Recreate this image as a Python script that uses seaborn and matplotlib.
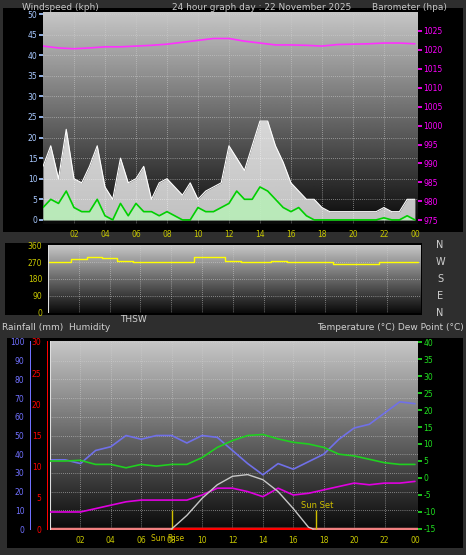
import numpy as np
import pandas as pd
import matplotlib
matplotlib.use("Agg")
import matplotlib.pyplot as plt
import seaborn as sns

# ---- data ----
half_hours = [i / 2 for i in range(49)]
gust = [13, 18, 10, 22, 10, 9, 13, 18, 8, 5, 15, 9, 10, 13, 5, 9, 10, 8, 6, 9, 5, 7, 8, 9,
        18, 15, 12, 18, 24, 24, 18, 14, 9, 7, 5, 5, 3, 2, 2, 2, 2, 2, 2, 2, 3, 2, 2, 5, 5]
avg_wind = [3, 5, 4, 7, 3, 2, 2, 5, 1, 0, 4, 1, 4, 2, 2, 1, 2, 1, 0, 0, 3, 2, 2, 3,
            4, 7, 5, 5, 8, 7, 5, 3, 2, 3, 1, 0, 0, 0, 0, 0, 0, 0, 0, 0, 0.5, 0, 0, 1, 0]

hours = list(range(25))
barometer = [1021, 1020.5, 1020.3, 1020.5, 1020.8, 1020.8, 1021, 1021.2, 1021.5, 1022, 1022.5,
             1023, 1023, 1022.3, 1021.8, 1021.3, 1021.3, 1021.2, 1021, 1021.4, 1021.5, 1021.6,
             1021.8, 1021.8, 1021.6]
direction = [270, 270, 290, 300, 295, 280, 275, 270, 275, 270, 300, 300, 280, 275, 275, 280,
             275, 275, 270, 260, 260, 260, 275, 275, 270]
humidity = [37, 37, 35, 42, 44, 50, 48, 50, 50, 46, 50, 49, 42, 35, 29, 35, 32, 36, 40, 48,
            54, 56, 62, 68, 67]
temperature = [5, 5, 5.2, 4, 4, 3, 4, 3.5, 4, 4, 6, 9, 11, 12.5, 12.8, 11.5, 10.5, 10, 9, 7,
               6.5, 5.5, 4.5, 4, 4]
dew_point = [-10, -10, -10, -9, -8, -7, -6.5, -6.5, -6.5, -6.5, -5, -3, -3, -4, -5.5, -3, -5,
             -4.5, -3.5, -2.5, -1.5, -2, -1.5, -1.5, -1]
thsw_hours = [8, 9, 10, 11, 12, 13, 14, 15, 16, 17, 17.3]
thsw = [-15, -11, -6, -2, 0.5, 1, -0.5, -4, -9, -14.5, -15]
sunrise, sunset = 8.0, 17.5
xtick_labels = ["02", "04", "06", "08", "10", "12", "14", "16", "18", "20", "22", "00"]

sns.set_theme(style="dark")
plt.rcParams["font.family"] = ["DejaVu Sans"]
plt.rcParams["axes.unicode_minus"] = False

W, H = 466, 555
fig = plt.figure(figsize=(W / 100, H / 100), dpi=100, facecolor="#2e2e2e")


def box(x0, y0, x1, y1):
    return [x0 / W, 1 - y1 / H, (x1 - x0) / W, (y1 - y0) / H]


grad = np.linspace(0, 1, 256).reshape(-1, 1)


def style(ax, xlim, ylim, ycolor, yticks, gridy):
    ax.set_xlim(*xlim)
    ax.set_ylim(*ylim)
    ax.imshow(grad, extent=[xlim[0], xlim[1], ylim[0], ylim[1]], aspect="auto",
              cmap="gray", vmin=-0.05, vmax=1.3, origin="lower", zorder=0)
    ax.set_facecolor("black")
    for s in ax.spines.values():
        s.set_visible(False)
    ax.set_xticks(range(2, 25, 2))
    ax.set_xticks(np.arange(0, 24.01, 0.5), minor=True)
    ax.set_yticks(yticks)
    ax.set_yticklabels([str(t) for t in yticks], color=ycolor, fontsize=5.5)
    ax.tick_params(axis="y", colors=ycolor, length=3, pad=1, labelsize=5.5)
    ax.tick_params(axis="x", colors="#c8c800", length=2, pad=2, labelsize=5.5)
    for g in gridy:
        ax.axhline(g, color="#d0d0d0", lw=0.5, ls=(0, (1, 2)), zorder=1)
    for g in range(2, 24, 2):
        ax.axvline(g, color="#d0d0d0", lw=0.5, ls=(0, (1, 2)), zorder=1)


# ---- frames ----
for b in [(3, 8, 463, 232), (5, 243, 422, 315), (7, 338, 463, 548)]:
    fa = fig.add_axes(box(*b))
    fa.set_facecolor("black")
    fa.set_xticks([]); fa.set_yticks([])
    for s in fa.spines.values():
        s.set_visible(False)

# ---- wind / barometer panel ----
ax1 = fig.add_axes(box(43, 12, 418, 224))
style(ax1, (0, 24.2), (-1, 50.5), "#a8c8ff", list(range(0, 51, 5)), range(5, 51, 5))
ax1.set_xticklabels(xtick_labels, color="#c8c800")
ax1.fill_between(half_hours, gust, color="white", alpha=0.75, zorder=2, lw=0)
sns.lineplot(x=half_hours, y=gust, ax=ax1, color="white", lw=0.8, zorder=2)
ax1.fill_between(half_hours, avg_wind, color="#b8f0b8", alpha=0.85, zorder=3, lw=0)
sns.lineplot(x=half_hours, y=avg_wind, ax=ax1, color="#00d000", lw=1.2, zorder=4)
ax1b = ax1.twinx()
ax1b.set_ylim(974, 1030)
sns.lineplot(x=hours, y=barometer, ax=ax1b, color="#ff30ff", lw=1.2)
ax1b.set_yticks(range(975, 1026, 5))
ax1b.tick_params(axis="y", colors="#ff00ff", labelsize=5.5, length=3, pad=1)
for s in ax1b.spines.values():
    s.set_visible(False)
ax1.set_xlim(0, 24.2)

fig.text(22 / W, 1 - 7 / H, "Windspeed (kph)", color="#c8c8c8", fontsize=6.5, va="center")
fig.text(172 / W, 1 - 7 / H, "24 hour graph day : 22 November 2025", color="#c8c8c8",
         fontsize=6.5, va="center")
fig.text(372 / W, 1 - 7 / H, "Barometer (hpa)", color="#c8c8c8", fontsize=6.5, va="center")

# ---- wind direction panel ----
ax2 = fig.add_axes(box(48, 245, 421, 313))
style(ax2, (0, 24.2), (-5, 365), "#c8c800", [0, 90, 180, 270, 360], [90, 180, 270])
ax2.set_xticklabels([])
ax2.tick_params(axis="x", length=0)
sns.lineplot(x=hours, y=direction, ax=ax2, color="#ffff00", lw=1.0, drawstyle="steps-mid")
ax2.axvline(0, color="#e0e0e0", lw=1.5)
for lab, yy in zip(["N", "W", "S", "E", "N"], [245, 262, 279, 296, 313]):
    fig.text(440 / W, 1 - yy / H, lab, color="#d0d0d0", fontsize=7, ha="center", va="center")

fig.text(2 / W, 1 - 327 / H, "Rainfall (mm)  Humidity", color="#d0d0d0", fontsize=6.5, va="center")
fig.text(120 / W, 1 - 320 / H, "THSW", color="#d0d0d0", fontsize=6.5, va="center")
fig.text(464 / W, 1 - 327 / H, "Temperature (°C) Dew Point (°C)", color="#d0d0d0",
         fontsize=6.5, va="center", ha="right")

# ---- temperature / humidity panel ----
ax3 = fig.add_axes(box(50, 341, 418, 530))
style(ax3, (0, 24.2), (-0.5, 100.5), "#8080ff", list(range(0, 101, 10)), range(10, 101, 10))
ax3.set_yticklabels([])
ax3.tick_params(axis="y", length=0)
ax3.set_xticklabels(xtick_labels, color="#c8c800")
sns.lineplot(x=hours, y=humidity, ax=ax3, color="#7070e8", lw=1.2, zorder=5)

# humidity axis on the far left
axh = fig.add_axes(box(30, 341, 31, 530))
axh.set_ylim(-0.5, 100.5)
axh.set_xticks([])
axh.set_facecolor("#7070ff")
axh.set_yticks(range(0, 101, 10))
axh.tick_params(axis="y", colors="#7070ff", labelsize=5.5, length=3, pad=1)
for s in axh.spines.values():
    s.set_visible(False)
# rainfall axis
axr = fig.add_axes(box(47, 341, 48, 530))
axr.set_ylim(-0.15, 30.15)
axr.set_xticks([])
axr.set_facecolor("#ff0000")
axr.set_yticks(range(0, 31, 5))
axr.tick_params(axis="y", colors="#ff0000", labelsize=5.5, length=3, pad=1)
for s in axr.spines.values():
    s.set_visible(False)

ax3b = ax3.twinx()
ax3b.set_ylim(-15.3, 40.3)
sns.lineplot(x=hours, y=temperature, ax=ax3b, color="#20d020", lw=1.2)
sns.lineplot(x=hours, y=dew_point, ax=ax3b, color="#e000e0", lw=1.2)
sns.lineplot(x=thsw_hours, y=thsw, ax=ax3b, color="#c8c8c8", lw=1.0)
ax3b.set_yticks(range(-15, 41, 5))
ax3b.tick_params(axis="y", colors="#20e020", labelsize=5.5, length=3, pad=1)
for s in ax3b.spines.values():
    s.set_visible(False)
ax3b.set_xlim(0, 24.2)

# rain / solar baseline
ax3.hlines(0, 0, 24.2, color="#f08080", lw=2.5, zorder=6)
ax3.hlines(0, sunrise, sunset - 0.3, color="#ff0000", lw=2.5, zorder=7)
ax3.vlines([sunrise, sunset], 0, 10, color="#d0c000", lw=1, zorder=8)
ax3.axvline(0, color="#e0e0e0", lw=1.5, zorder=8)
ax3.text(sunset - 1, 11, "Sun Set", color="#d0c000", fontsize=6, zorder=9)
ax3.text(sunrise - 0.3, -2.5, "Sun Rise", color="#d0c000", fontsize=5.5, ha="center", va="top",
         clip_on=False, zorder=9)

fig.savefig("out.png", dpi=100, facecolor=fig.get_facecolor())
